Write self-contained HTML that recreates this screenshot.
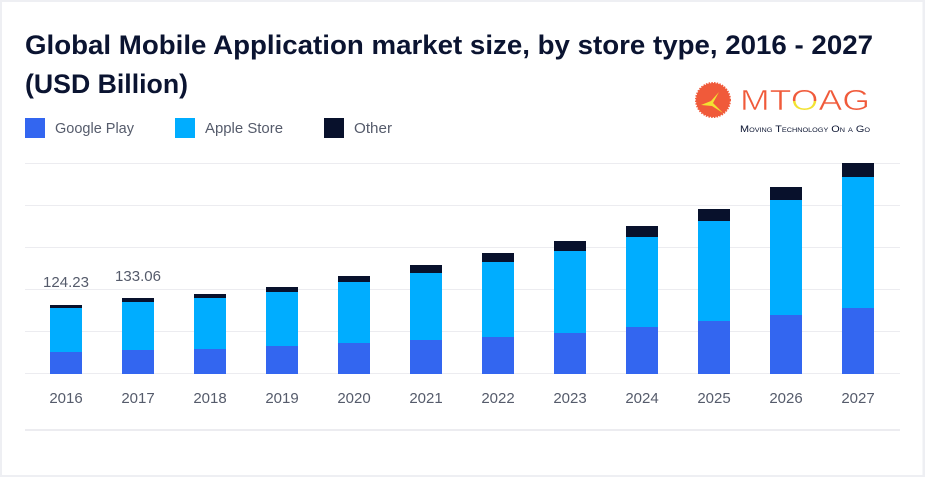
<!DOCTYPE html>
<html>
<head>
<meta charset="utf-8">
<style>
  html,body{margin:0;padding:0;background:#eeeff3;}
  svg{display:block;}
  text{font-family:"Liberation Sans",sans-serif;}
</style>
</head>
<body>
<svg width="925" height="477" viewBox="0 0 925 477" xmlns="http://www.w3.org/2000/svg">
  <defs>
    <linearGradient id="og" x1="0" y1="0" x2="0" y2="1">
      <stop offset="0.5" stop-color="#f05a3a"/>
      <stop offset="0.5" stop-color="#f2e232"/>
    </linearGradient>
  </defs>
  <rect x="0" y="0" width="925" height="477" fill="#eeeff3"/>
  <rect x="2" y="2" width="920.5" height="473" fill="#ffffff"/>

  <text x="25" y="54" font-size="27" font-weight="bold" fill="#0b1431" textLength="848" lengthAdjust="spacingAndGlyphs">Global Mobile Application market size, by store type, 2016 - 2027</text>
  <text x="25" y="93" font-size="27" font-weight="bold" fill="#0b1431" textLength="163" lengthAdjust="spacingAndGlyphs">(USD Billion)</text>

  <rect x="25" y="118" width="20" height="20" fill="#3366f0"/>
  <text x="55" y="133" font-size="15" fill="#555b6b" textLength="79" lengthAdjust="spacingAndGlyphs">Google Play</text>
  <rect x="175" y="118" width="20" height="20" fill="#00adff"/>
  <text x="205" y="133" font-size="15" fill="#555b6b" textLength="78" lengthAdjust="spacingAndGlyphs">Apple Store</text>
  <rect x="324" y="118" width="20" height="20" fill="#08112c"/>
  <text x="354" y="133" font-size="15" fill="#555b6b" textLength="38" lengthAdjust="spacingAndGlyphs">Other</text>

  <circle cx="713" cy="100" r="17" fill="#f05a3a" stroke="#f05a3a" stroke-width="2" stroke-dasharray="1.5 1.2"/>
  <circle cx="713" cy="100" r="16" fill="#f05a3a"/>
  <polygon points="719,92 713,103 723,113 712,106 701,105 711,101" fill="#f2e232"/>
  <text x="740" y="110" font-size="29" fill="#f05a3a" stroke="#ffffff" stroke-width="0.6" textLength="130" lengthAdjust="spacingAndGlyphs">MT<tspan fill="url(#og)">O</tspan>AG</text>
  <text x="740" y="132" font-size="9" fill="#0b1431" style="font-variant:small-caps" textLength="130" lengthAdjust="spacingAndGlyphs">Moving Technology On a Go</text>

  <g fill="#ececf0">
    <rect x="25" y="163" width="875" height="1"/>
    <rect x="25" y="205" width="875" height="1"/>
    <rect x="25" y="247" width="875" height="1"/>
    <rect x="25" y="289" width="875" height="1"/>
    <rect x="25" y="331" width="875" height="1"/>
    <rect x="25" y="373" width="875" height="1"/>
    <rect x="25" y="429" width="875" height="2"/>
  </g>

  <g>
    <rect x="50" y="305" width="32" height="3" fill="#08112c"/>
    <rect x="50" y="308" width="32" height="44" fill="#00adff"/>
    <rect x="50" y="352" width="32" height="22" fill="#3366f0"/>
    <rect x="122" y="298" width="32" height="4" fill="#08112c"/>
    <rect x="122" y="302" width="32" height="48" fill="#00adff"/>
    <rect x="122" y="350" width="32" height="24" fill="#3366f0"/>
    <rect x="194" y="294" width="32" height="4" fill="#08112c"/>
    <rect x="194" y="298" width="32" height="51" fill="#00adff"/>
    <rect x="194" y="349" width="32" height="25" fill="#3366f0"/>
    <rect x="266" y="287" width="32" height="5" fill="#08112c"/>
    <rect x="266" y="292" width="32" height="54" fill="#00adff"/>
    <rect x="266" y="346" width="32" height="28" fill="#3366f0"/>
    <rect x="338" y="276" width="32" height="6" fill="#08112c"/>
    <rect x="338" y="282" width="32" height="61" fill="#00adff"/>
    <rect x="338" y="343" width="32" height="31" fill="#3366f0"/>
    <rect x="410" y="265" width="32" height="8" fill="#08112c"/>
    <rect x="410" y="273" width="32" height="67" fill="#00adff"/>
    <rect x="410" y="340" width="32" height="34" fill="#3366f0"/>
    <rect x="482" y="253" width="32" height="9" fill="#08112c"/>
    <rect x="482" y="262" width="32" height="75" fill="#00adff"/>
    <rect x="482" y="337" width="32" height="37" fill="#3366f0"/>
    <rect x="554" y="241" width="32" height="10" fill="#08112c"/>
    <rect x="554" y="251" width="32" height="82" fill="#00adff"/>
    <rect x="554" y="333" width="32" height="41" fill="#3366f0"/>
    <rect x="626" y="226" width="32" height="11" fill="#08112c"/>
    <rect x="626" y="237" width="32" height="90" fill="#00adff"/>
    <rect x="626" y="327" width="32" height="47" fill="#3366f0"/>
    <rect x="698" y="209" width="32" height="12" fill="#08112c"/>
    <rect x="698" y="221" width="32" height="100" fill="#00adff"/>
    <rect x="698" y="321" width="32" height="53" fill="#3366f0"/>
    <rect x="770" y="187" width="32" height="13" fill="#08112c"/>
    <rect x="770" y="200" width="32" height="115" fill="#00adff"/>
    <rect x="770" y="315" width="32" height="59" fill="#3366f0"/>
    <rect x="842" y="163" width="32" height="14" fill="#08112c"/>
    <rect x="842" y="177" width="32" height="131" fill="#00adff"/>
    <rect x="842" y="308" width="32" height="66" fill="#3366f0"/>
  </g>

  <text x="66" y="287" font-size="15" fill="#555b6b" text-anchor="middle">124.23</text>
  <text x="138" y="281" font-size="15" fill="#555b6b" text-anchor="middle">133.06</text>

  <g font-size="15" fill="#555b6b" text-anchor="middle">
    <text x="66" y="403">2016</text>
    <text x="138" y="403">2017</text>
    <text x="210" y="403">2018</text>
    <text x="282" y="403">2019</text>
    <text x="354" y="403">2020</text>
    <text x="426" y="403">2021</text>
    <text x="498" y="403">2022</text>
    <text x="570" y="403">2023</text>
    <text x="642" y="403">2024</text>
    <text x="714" y="403">2025</text>
    <text x="786" y="403">2026</text>
    <text x="858" y="403">2027</text>
  </g>
</svg>
</body>
</html>
